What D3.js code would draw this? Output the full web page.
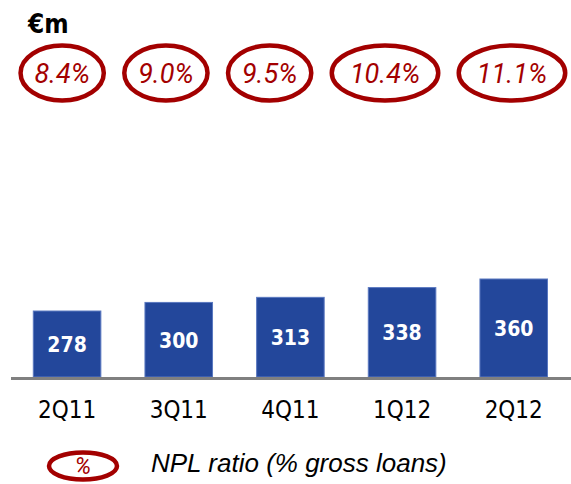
<!DOCTYPE html>
<html>
  <head>
    <script src="https://d3js.org/d3.v7.min.js"></script>
    <style>
      body { margin: 0; background: #fff; }
      #chart { display: block; }
      .bar { fill: #23479b; stroke: #5a78c0; stroke-width: 1; }
      .val { font: bold 21px "DejaVu Sans Condensed", "DejaVu Sans", sans-serif; fill: #fff; text-anchor: middle; }
      .cat { font: 24px "DejaVu Sans Condensed", "DejaVu Sans", sans-serif; fill: #000; text-anchor: middle; }
      .npl { font: italic 27px Roboto, sans-serif; fill: #a30000; text-anchor: middle; }
      .ring { fill: none; stroke: #a30000; stroke-width: 4.5; }
      .unit { font: bold 26px "DejaVu Sans Condensed", "DejaVu Sans", sans-serif; fill: #000; }
      .legend { font: italic 26px "Liberation Sans", Arial, sans-serif; fill: #000; }
    </style>
  </head>
  <body>
    <svg id="chart"></svg>
    <script>
      // data
      var quarters = ['2Q11', '3Q11', '4Q11', '1Q12', '2Q12'];
      var npl = [278, 300, 313, 338, 360];
      var nplRatio = ['8.4%', '9.0%', '9.5%', '10.4%', '11.1%'];
      var unitLabel = '€m';
      var legendLabel = 'NPL ratio (% gross loans)';

      var width = 571, height = 484;
      var baseY = 377;
      var yFloor = 109; // axis doesn't start at zero on the slide

      var svg = d3.select('#chart')
        .attr('width', width)
        .attr('height', height);

      var x = d3.scaleBand()
        .domain(quarters)
        .range([33.3, 547.5])
        .paddingInner(0.395)
        .paddingOuter(0);

      var y = d3.scaleLinear()
        .domain([yFloor, 360])
        .range([baseY, 279]);

      // bars
      svg.selectAll('.bar')
        .data(quarters)
        .enter().append('rect')
          .attr('class', 'bar')
          .attr('x', d => x(d))
          .attr('y', (d, i) => y(npl[i]))
          .attr('width', x.bandwidth())
          .attr('height', (d, i) => baseY - y(npl[i]));

      svg.selectAll('.val')
        .data(quarters)
        .enter().append('text')
          .attr('class', 'val')
          .attr('x', d => x(d) + x.bandwidth() / 2)
          .attr('y', (d, i) => (y(npl[i]) + baseY) / 2 + 7.8)
          .text((d, i) => npl[i]);

      // baseline
      svg.append('line')
        .attr('x1', 11).attr('x2', 571)
        .attr('y1', baseY + 1.5).attr('y2', baseY + 1.5)
        .attr('stroke', '#808080')
        .attr('stroke-width', 3);

      // category labels
      var xAxis = d3.axisBottom(x).tickSize(0).tickPadding(0);
      var ax = svg.append('g')
        .attr('transform', `translate(0, ${ baseY })`)
        .call(xAxis);
      ax.select('.domain').remove();
      ax.selectAll('text')
        .attr('class', 'cat')
        .attr('dy', null)
        .attr('y', 41)
        .attr('fill', null);

      // unit
      svg.append('text')
        .attr('class', 'unit')
        .attr('x', 28)
        .attr('y', 33)
        .text(unitLabel);

      // NPL ratio rings, laid out left to right
      var cy = 73;
      var left = 18.3;
      var gap = 16;
      nplRatio.forEach(function(r) {
        var t = svg.append('text')
          .attr('class', 'npl')
          .attr('y', cy + 10)
          .text(r);
        var w = t.node().getComputedTextLength();
        var rx = w * 0.79;
        var cx = left + rx;
        t.attr('x', cx);
        svg.insert('ellipse', 'text')
          .attr('class', 'ring')
          .attr('cx', cx)
          .attr('cy', cy)
          .attr('rx', rx - 2.25)
          .attr('ry', 27.5);
        left = cx + rx + gap;
      });

      // legend
      var lg = svg.append('g');
      lg.append('ellipse')
        .attr('class', 'ring')
        .attr('cx', 83)
        .attr('cy', 466)
        .attr('rx', 34)
        .attr('ry', 13.5);
      lg.append('text')
        .attr('class', 'npl')
        .style('font-size', '23px')
        .attr('x', 83)
        .attr('y', 474)
        .text('%');
      lg.append('text')
        .attr('class', 'legend')
        .attr('x', 151)
        .attr('y', 472)
        .text(legendLabel);
    </script>
  </body>
</html>
